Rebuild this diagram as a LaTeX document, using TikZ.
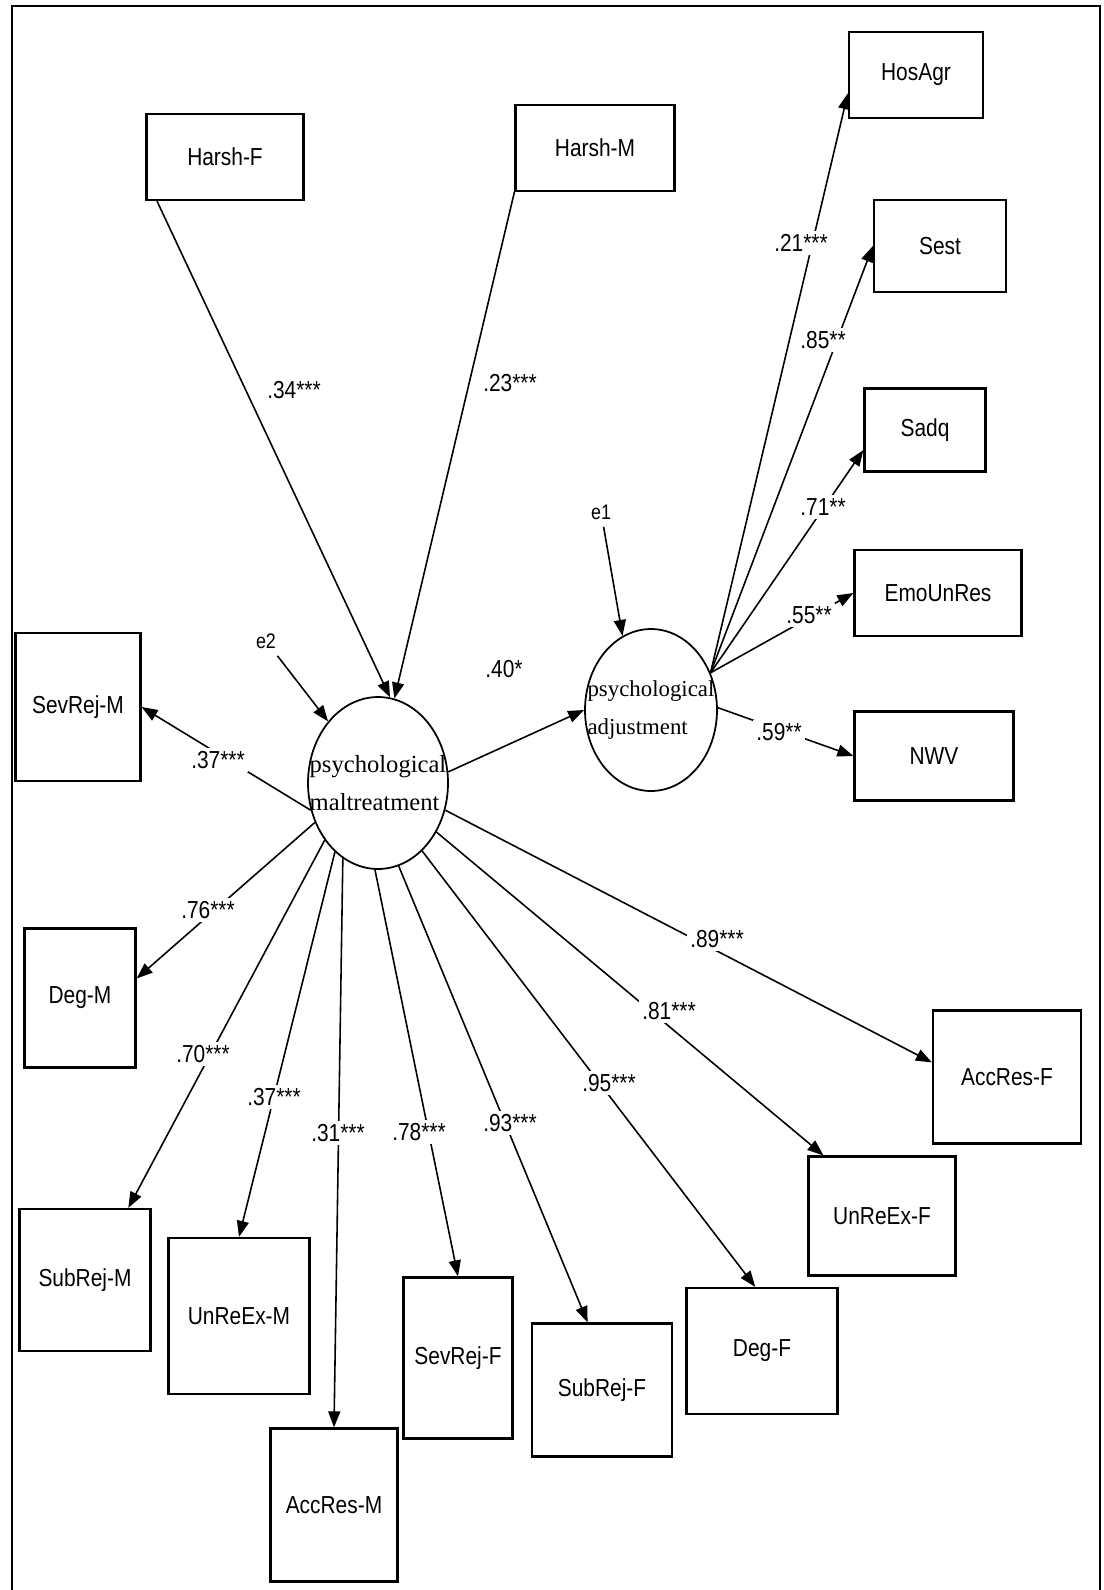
\documentclass[tikz,border=0pt]{standalone}
\usepackage{fontspec}
\setmainfont{Liberation Serif}
\newfontfamily\boxfont[FakeStretch=0.85]{Liberation Sans}
\usepackage{tikz}
\usetikzlibrary{shapes.geometric,arrows.meta,calc}

\begin{document}
\begin{tikzpicture}[x=0.02cm, y=-0.02cm]
	\tikzstyle{every node} = [inner sep = 0pt]
	\tikzstyle{obs} = [rectangle, draw = black, line width = 1.3pt, font = \boxfont\fontsize{14}{16}\selectfont]
	\tikzstyle{lat} = [ellipse, draw = black, line width = 1pt, align = left, inner xsep = -0.4cm]
	\tikzstyle{lbl} = [fill = white, inner sep = 2pt, font = \boxfont\fontsize{14}{16}\selectfont]
	\tikzstyle{err} = [inner sep = 4pt, font = \boxfont\fontsize{12}{14}\selectfont]
	\tikzstyle{arr} = [draw, line width = 0.9pt, -{Triangle[length=0.32cm, width=0.24cm]}]
\useasboundingbox (0,0) rectangle (1103,1590);
\draw[line width = 1.2pt] (12,1590) -- (12,6) -- (1100,6) -- (1100,1590);

% latent variables
\node[lat, minimum width = 2.8cm, minimum height = 3.44cm, font = \fontsize{14}{22}\selectfont] (mal) at (378,783) {psychological\\maltreatment};
\node[lat, minimum width = 2.64cm, minimum height = 3.24cm, font = \fontsize{13}{22}\selectfont] (adj) at (651,710) {psychological\\adjustment};
\node[err] (e2) at (266,641) {e2};
\node[err] (e1) at (601,512) {e1};

% predictors
\node[obs, minimum width = 3.14cm, minimum height = 1.72cm] (hf) at (225,157) {Harsh-F};
\node[obs, minimum width = 3.18cm, minimum height = 1.72cm] (hm) at (595,148) {Harsh-M};

% indicators of adjustment
\node[obs, minimum width = 2.68cm, minimum height = 1.72cm] (hos) at (916,75) {HosAgr};
\node[obs, minimum width = 2.64cm, minimum height = 1.84cm] (sest) at (940,246) {Sest};
\node[obs, minimum width = 2.42cm, minimum height = 1.66cm] (sadq) at (925,430) {Sadq};
\node[obs, minimum width = 3.34cm, minimum height = 1.72cm] (emo) at (938,593) {EmoUnRes};
\node[obs, minimum width = 3.18cm, minimum height = 1.78cm] (nwv) at (934,756) {NWV};

% indicators of maltreatment
\node[obs, minimum width = 2.5cm, minimum height = 2.96cm] (srM) at (78,707) {SevRej-M};
\node[obs, minimum width = 2.22cm, minimum height = 2.78cm] (dgM) at (80,998) {Deg-M};
\node[obs, minimum width = 2.62cm, minimum height = 2.84cm] (sbM) at (85,1280) {SubRej-M};
\node[obs, minimum width = 2.82cm, minimum height = 3.12cm] (ueM) at (239,1316) {UnReEx-M};
\node[obs, minimum width = 2.54cm, minimum height = 3.06cm] (arM) at (334,1505) {AccRes-M};
\node[obs, minimum width = 2.18cm, minimum height = 3.22cm] (srF) at (458,1358) {SevRej-F};
\node[obs, minimum width = 2.8cm, minimum height = 2.66cm] (sbF) at (602,1390) {SubRej-F};
\node[obs, minimum width = 3.02cm, minimum height = 2.52cm] (dgF) at (762,1351) {Deg-F};
\node[obs, minimum width = 2.94cm, minimum height = 2.38cm] (ueF) at (882,1216) {UnReEx-F};
\node[obs, minimum width = 2.96cm, minimum height = 2.66cm] (arF) at (1007,1077) {AccRes-F};

% paths
\path[arr] (hf.213) -- (mal.82);
\path[arr] (hm.south west) -- (mal.79);
\path[arr] (e2) -- (mal.129);
\path[arr] (e1) -- (adj.111);
\path[arr] (mal.9) -- (adj.west);
\path[arr] (adj.32) -- (hos.195);
\path[arr] (adj.32) -- (sest.west);
\path[arr] (adj.32) -- (sadq.198);
\path[arr] (adj.32) -- (emo.west);
\path[arr] (adj.2) -- (nwv.west);
\path[arr] (mal.202) -- (srM.east);
\path[arr] (mal.212) -- (dgM.19);
\path[arr] (mal.227) -- (sbM.59);
\path[arr] (mal.238) -- (ueM.north);
\path[arr] (mal.245) -- (arM.north);
\path[arr] (mal.268) -- (srF.north);
\path[arr] (mal.284) -- (sbF.102);
\path[arr] (mal.303) -- (dgF.96);
\path[arr] (mal.320) -- (ueF.134);
\path[arr] (mal.338) -- (arF.169);

% coefficients
\node[lbl] (l1) at (294,390) {.34***};
\node[lbl] (l2) at (510,383) {.23***};
\node[lbl] (l3) at (504,669) {.40*};
\node[lbl] (l4) at (801,243) {.21***};
\node[lbl] (l5) at (823,340) {.85**};
\node[lbl] (l6) at (823,507) {.71**};
\node[lbl] (l7) at (809,615) {.55**};
\node[lbl] (l8) at (779,732) {.59**};
\node[lbl] (l9) at (218,760) {.37***};
\node[lbl] (l10) at (208,910) {.76***};
\node[lbl] (l11) at (203,1054) {.70***};
\node[lbl] (l12) at (274,1097) {.37***};
\node[lbl] (l13) at (338,1133) {.31***};
\node[lbl] (l14) at (419,1132) {.78***};
\node[lbl] (l15) at (510,1123) {.93***};
\node[lbl] (l16) at (609,1083) {.95***};
\node[lbl] (l17) at (669,1011) {.81***};
\node[lbl] (l18) at (717,939) {.89***};
\end{tikzpicture}
\end{document}
